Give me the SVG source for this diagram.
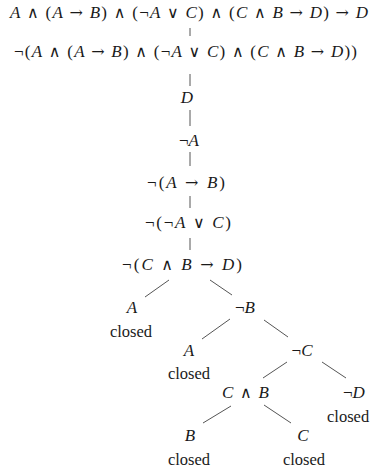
<svg xmlns="http://www.w3.org/2000/svg" width="370" height="470" viewBox="0 0 370 470">
<style>
text{font-family:"Liberation Serif",serif;font-size:17px;fill:#1a1a1a}
.i{font-style:italic}
.o{font-family:"DejaVu Serif",serif;font-size:16px}
.c{font-size:16.5px}
.m{text-anchor:middle}
line{stroke:#555;stroke-width:1}
</style>
<rect width="370" height="470" fill="#fff"/>
<g id="edges">
<line x1="190" y1="28" x2="190" y2="36"/>
<line x1="190" y1="74" x2="190" y2="86"/>
<line x1="190" y1="110" x2="190" y2="126"/>
<line x1="190" y1="152" x2="190" y2="166"/>
<line x1="190" y1="196" x2="190" y2="208"/>
<line x1="190" y1="238" x2="190" y2="250"/>
<line x1="169" y1="280" x2="145" y2="297"/>
<line x1="210" y1="280" x2="232" y2="295"/>
<line x1="230" y1="319" x2="202" y2="339"/>
<line x1="264" y1="320" x2="288" y2="337"/>
<line x1="287" y1="362" x2="263" y2="378"/>
<line x1="322" y1="362" x2="346" y2="378"/>
<line x1="231" y1="406" x2="203" y2="423"/>
<line x1="264" y1="405" x2="291" y2="423"/>
</g>
<g id="n1"><text x="10" y="18" textLength="358" lengthAdjust="spacing"><tspan class="i">A</tspan> <tspan class="o">∧</tspan> (<tspan class="i">A</tspan> <tspan class="o">→</tspan> <tspan class="i">B</tspan>) <tspan class="o">∧</tspan> (¬<tspan class="i">A</tspan> <tspan class="o">∨</tspan> <tspan class="i">C</tspan>) <tspan class="o">∧</tspan> (<tspan class="i">C</tspan> <tspan class="o">∧</tspan> <tspan class="i">B</tspan> <tspan class="o">→</tspan> <tspan class="i">D</tspan>) <tspan class="o">→</tspan> <tspan class="i">D</tspan></text></g>
<g id="n2"><text x="14" y="57" textLength="343" lengthAdjust="spacing">¬(<tspan class="i">A</tspan> <tspan class="o">∧</tspan> (<tspan class="i">A</tspan> <tspan class="o">→</tspan> <tspan class="i">B</tspan>) <tspan class="o">∧</tspan> (¬<tspan class="i">A</tspan> <tspan class="o">∨</tspan> <tspan class="i">C</tspan>) <tspan class="o">∧</tspan> (<tspan class="i">C</tspan> <tspan class="o">∧</tspan> <tspan class="i">B</tspan> <tspan class="o">→</tspan> <tspan class="i">D</tspan>))</text></g>
<g id="n3"><text class="i m" x="187" y="103">D</text></g>
<g id="n4"><text class="m" x="189" y="146">¬<tspan class="i">A</tspan></text></g>
<g id="n5"><text x="147" y="188" textLength="78" lengthAdjust="spacing">¬(<tspan class="i">A</tspan> <tspan class="o">→</tspan> <tspan class="i">B</tspan>)</text></g>
<g id="n6"><text x="145" y="228" textLength="86" lengthAdjust="spacing">¬(¬<tspan class="i">A</tspan> <tspan class="o">∨</tspan> <tspan class="i">C</tspan>)</text></g>
<g id="n7"><text x="122" y="270" textLength="120" lengthAdjust="spacing">¬(<tspan class="i">C</tspan> <tspan class="o">∧</tspan> <tspan class="i">B</tspan> <tspan class="o">→</tspan> <tspan class="i">D</tspan>)</text></g>
<g id="n8"><text class="i m" x="132" y="313">A</text><text class="c m" x="131" y="337">closed</text></g>
<g id="n9"><text class="m" x="245" y="313">¬<tspan class="i">B</tspan></text></g>
<g id="n10"><text class="i m" x="189" y="356">A</text><text class="c m" x="189" y="379">closed</text></g>
<g id="n11"><text class="m" x="302" y="356">¬<tspan class="i">C</tspan></text></g>
<g id="n12"><text x="222" y="398" textLength="47" lengthAdjust="spacing"><tspan class="i">C</tspan> <tspan class="o">∧</tspan> <tspan class="i">B</tspan></text></g>
<g id="n13"><text x="343" y="398">¬<tspan class="i">D</tspan></text><text class="c" x="327" y="422">closed</text></g>
<g id="n14"><text class="i m" x="190" y="441">B</text><text class="c m" x="189" y="465">closed</text></g>
<g id="n15"><text class="i m" x="303" y="441">C</text><text class="c m" x="304" y="465">closed</text></g>
</svg>
